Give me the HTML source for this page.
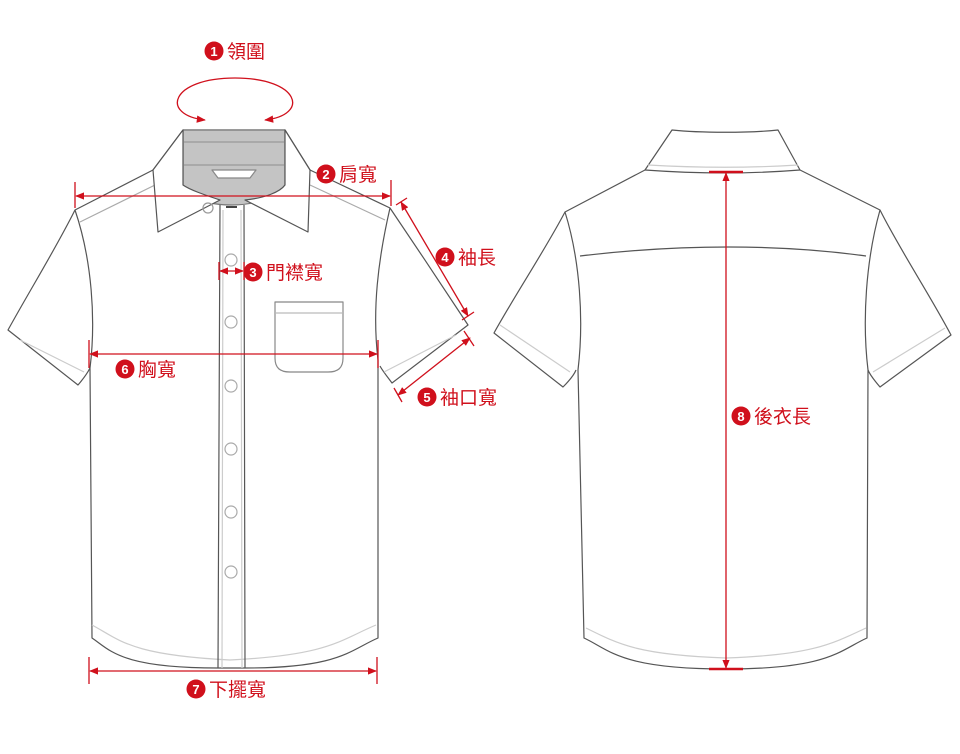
<!DOCTYPE html>
<html><head><meta charset="utf-8"><style>
html,body{margin:0;padding:0;background:#fff;}
svg{display:block;}
text{font-family:"Liberation Sans","Noto Sans CJK TC",sans-serif;}
.lbl{fill:#d0101c;font-size:19px;font-weight:normal;}
.num{fill:#fff;font-size:13px;font-weight:bold;text-anchor:middle;}
</style></head><body>
<svg width="960" height="754" viewBox="0 0 960 754" xmlns="http://www.w3.org/2000/svg">
<defs>
<marker id="ar" viewBox="0 0 10 10" refX="9" refY="5" markerWidth="7" markerHeight="7" orient="auto-start-reverse"><path d="M0,1 L10,5 L0,9 z" fill="#d0101c"/></marker>
</defs>
<g fill="none" stroke="#555" stroke-width="1.2" stroke-linejoin="round">
<path d="M75,210 C55,250 30,290 8,330 L78,385 C84,378 88,372 90,368" fill="#fff"/>
<path d="M390,208 C415,245 445,290 468,325 L392,383 C386,375 382,370 380,366" fill="#fff"/>
<path d="M20,340 L84,372" stroke="#ccc"/>
<path d="M456,335 L384,372" stroke="#ccc"/>
<path d="M75,210 L153,170 L183,130 L285,130 L310,170 L390,208 C378,260 372,310 378,360 L378,638 C350,650 340,668 245,668 L218,668 C120,668 110,650 92,638 L90,368 C96,320 92,260 75,210 z" fill="#fff"/>
<path d="M92,625 C120,640 130,655 230,660 C330,655 340,640 376,625" stroke="#ccc"/>
<path d="M80,222 L155,185 M385,220 L310,185" stroke="#aaa"/>
<path d="M183,130 L285,130 L285,185 C275,200 250,205 232,205 C210,205 190,200 183,185 z" fill="#c4c4c4" stroke="#777"/>
<path d="M184,142 L284,142 M184,165 L284,165" stroke="#999"/>
<path d="M212,170 L256,170 L250,178 L218,178 z" fill="#fff" stroke="#888"/>
<path d="M183,130 L153,170 L158,232 L220,200 C205,195 190,190 183,185 z" fill="#fff"/>
<path d="M285,130 L310,170 L308,232 L245,200 C265,198 280,192 285,185 z" fill="#fff"/>
<path d="M220,205 L218,668 M244,205 L245,668" />
<path d="M223,210 L222,668 M241,210 L242,668" stroke="#ccc"/>
<circle cx="208" cy="208" r="5" stroke="#999"/>
<path d="M226,207 L237,207" stroke="#444" stroke-width="2"/>
<g stroke="#aaa">
<circle cx="231" cy="260" r="6"/><circle cx="231" cy="322" r="6"/><circle cx="231" cy="386" r="6"/><circle cx="231" cy="449" r="6"/><circle cx="231" cy="512" r="6"/><circle cx="231" cy="572" r="6"/>
</g>
<path d="M275,302 L343,302 L343,358 C343,368 338,372 328,372 L290,372 C280,372 275,368 275,358 z" stroke="#888"/>
<path d="M276,313 L342,313" stroke="#bbb"/>
<path d="M565,212 C545,250 515,295 494,333 L563,387 C570,380 574,375 576,370" fill="#fff"/>
<path d="M880,210 C900,250 930,295 951,335 L880,387 C874,380 870,375 868,370" fill="#fff"/>
<path d="M500,325 L570,372 M945,328 L873,372" stroke="#ccc"/>
<path d="M565,212 L645,170 L672,130 C700,133 750,133 778,130 L800,170 L880,210 C866,260 862,320 868,370 L867,638 C840,650 830,669 726,669 C620,669 610,650 584,638 L578,370 C584,320 580,260 565,212 z" fill="#fff"/>
<path d="M645,170 C700,174 750,174 800,170"/>
<path d="M648,165 C700,168 750,168 798,165" stroke="#ccc"/>
<path d="M580,256 C680,244 780,244 866,256"/>
<path d="M586,628 C620,645 640,655 726,658 C810,655 830,645 866,628" stroke="#ccc"/>
</g>
<g stroke="#d0101c" stroke-width="1.3" fill="none">
<path d="M205,120 C160,115 170,78 235,78 C300,78 310,115 265,120" marker-start="url(#ar)" marker-end="url(#ar)"/>
<path d="M75,182 L75,208 M391,180 L391,206"/>
<path d="M76,196 L390,196" marker-start="url(#ar)" marker-end="url(#ar)"/>
<path d="M219,262 L219,280 M244,262 L244,280"/>
<path d="M220,271 L243,271" marker-start="url(#ar)" marker-end="url(#ar)"/>
<path d="M396,205 L407,198 M462,320 L474,312"/>
<path d="M401,202 L468,316" marker-start="url(#ar)" marker-end="url(#ar)"/>
<path d="M464,331 L474,346 M394,388 L402,402"/>
<path d="M470,338 L398,395" marker-start="url(#ar)" marker-end="url(#ar)"/>
<path d="M89,340 L89,368 M378,340 L378,368"/>
<path d="M90,354 L377,354" marker-start="url(#ar)" marker-end="url(#ar)"/>
<path d="M89,657 L89,684 M377,657 L377,684"/>
<path d="M90,671 L376,671" marker-start="url(#ar)" marker-end="url(#ar)"/>
<path d="M709,172 L743,172 M709,669 L743,669" stroke-width="2.5"/>
<path d="M726,173 L726,668" marker-start="url(#ar)" marker-end="url(#ar)"/>
</g>
<g>
<circle cx="214" cy="51" r="9.5" fill="#d0101c"/><text class="num" x="214" y="56">1</text><text class="lbl" x="227" y="58">領圍</text>
<circle cx="326" cy="174" r="9.5" fill="#d0101c"/><text class="num" x="326" y="179">2</text><text class="lbl" x="339" y="181">肩寬</text>
<circle cx="253" cy="272" r="9.5" fill="#d0101c"/><text class="num" x="253" y="277">3</text><text class="lbl" x="266" y="279">門襟寬</text>
<circle cx="445" cy="257" r="9.5" fill="#d0101c"/><text class="num" x="445" y="262">4</text><text class="lbl" x="458" y="264">袖長</text>
<circle cx="427" cy="397" r="9.5" fill="#d0101c"/><text class="num" x="427" y="402">5</text><text class="lbl" x="440" y="404">袖口寬</text>
<circle cx="125" cy="369" r="9.5" fill="#d0101c"/><text class="num" x="125" y="374">6</text><text class="lbl" x="138" y="376">胸寬</text>
<circle cx="196" cy="689" r="9.5" fill="#d0101c"/><text class="num" x="196" y="694">7</text><text class="lbl" x="209" y="696">下擺寬</text>
<circle cx="741" cy="416" r="9.5" fill="#d0101c"/><text class="num" x="741" y="421">8</text><text class="lbl" x="754" y="423">後衣長</text>
</g>
</svg>
</body></html>
